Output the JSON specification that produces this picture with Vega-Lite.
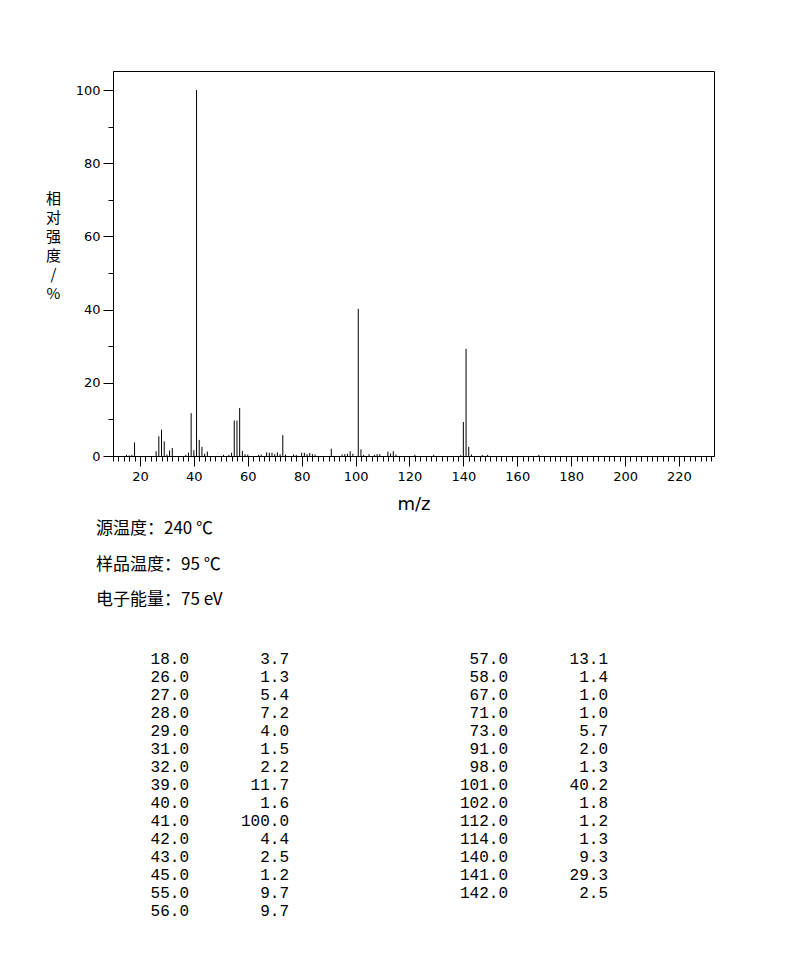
{
  "$schema": "https://vega.github.io/schema/vega-lite/v6.json",
  "background": "white",
  "padding": {"left": 44, "top": 70, "right": 0, "bottom": 0},
  "spacing": 6,
  "config": {
    "view": {"stroke": "black", "strokeWidth": 1},
    "font": "DejaVu Sans",
    "axis": {
      "grid": false,
      "domainColor": "black",
      "tickColor": "black",
      "labelColor": "black",
      "titleColor": "black",
      "labelFont": "DejaVu Sans",
      "labelFontSize": 13,
      "titleFontWeight": "normal"
    }
  },
  "vconcat": [
    {
      "width": 601,
      "height": 385,
      "data": {
        "values": [
          {"mz": 15, "intensity": 0.3}, {"mz": 16, "intensity": 0.15}, {"mz": 17, "intensity": 0.3},
          {"mz": 18, "intensity": 3.7}, {"mz": 26, "intensity": 1.3}, {"mz": 27, "intensity": 5.4},
          {"mz": 28, "intensity": 7.2}, {"mz": 29, "intensity": 4.0}, {"mz": 30, "intensity": 0.4},
          {"mz": 31, "intensity": 1.5}, {"mz": 32, "intensity": 2.2}, {"mz": 37, "intensity": 0.3},
          {"mz": 38, "intensity": 0.9}, {"mz": 39, "intensity": 11.7}, {"mz": 40, "intensity": 1.6},
          {"mz": 41, "intensity": 100.0}, {"mz": 42, "intensity": 4.4}, {"mz": 43, "intensity": 2.5},
          {"mz": 44, "intensity": 0.6}, {"mz": 45, "intensity": 1.2}, {"mz": 51, "intensity": 0.3},
          {"mz": 53, "intensity": 0.3}, {"mz": 54, "intensity": 0.9}, {"mz": 55, "intensity": 9.7},
          {"mz": 56, "intensity": 9.7}, {"mz": 57, "intensity": 13.1}, {"mz": 58, "intensity": 1.4},
          {"mz": 59, "intensity": 0.5}, {"mz": 60, "intensity": 0.4}, {"mz": 64, "intensity": 0.3},
          {"mz": 65, "intensity": 0.4}, {"mz": 67, "intensity": 1.0}, {"mz": 68, "intensity": 0.9},
          {"mz": 69, "intensity": 0.9}, {"mz": 70, "intensity": 0.5}, {"mz": 71, "intensity": 1.0},
          {"mz": 72, "intensity": 0.5}, {"mz": 73, "intensity": 5.7}, {"mz": 74, "intensity": 0.4},
          {"mz": 77, "intensity": 0.4}, {"mz": 78, "intensity": 0.3}, {"mz": 80, "intensity": 0.9},
          {"mz": 81, "intensity": 0.9}, {"mz": 82, "intensity": 0.5}, {"mz": 83, "intensity": 0.8},
          {"mz": 84, "intensity": 0.5}, {"mz": 85, "intensity": 0.4}, {"mz": 91, "intensity": 2.0},
          {"mz": 95, "intensity": 0.4}, {"mz": 96, "intensity": 0.5}, {"mz": 97, "intensity": 0.6},
          {"mz": 98, "intensity": 1.3}, {"mz": 99, "intensity": 0.6}, {"mz": 101, "intensity": 40.2},
          {"mz": 102, "intensity": 1.8}, {"mz": 103, "intensity": 0.3}, {"mz": 105, "intensity": 0.5},
          {"mz": 107, "intensity": 0.3}, {"mz": 108, "intensity": 0.5}, {"mz": 109, "intensity": 0.5},
          {"mz": 112, "intensity": 1.2}, {"mz": 113, "intensity": 0.7}, {"mz": 114, "intensity": 1.3},
          {"mz": 115, "intensity": 0.4}, {"mz": 122, "intensity": 0.3}, {"mz": 129, "intensity": 0.3},
          {"mz": 139, "intensity": 0.2}, {"mz": 140, "intensity": 9.3}, {"mz": 141, "intensity": 29.3},
          {"mz": 142, "intensity": 2.5}, {"mz": 143, "intensity": 0.4}, {"mz": 147, "intensity": 0.3},
          {"mz": 149, "intensity": 0.3}, {"mz": 168, "intensity": 0.3}
        ]
      },
      "mark": {"type": "rule", "color": "black", "strokeWidth": 1},
      "encoding": {
        "x": {
          "field": "mz",
          "type": "quantitative",
          "scale": {"domain": [10, 233], "nice": false, "zero": false},
          "axis": {
            "title": "m/z",
            "titleFont": "DejaVu Sans",
            "titleFontSize": 18,
            "titlePadding": 12,
            "values": [10, 12, 14, 16, 18, 20, 22, 24, 26, 28, 30, 32, 34, 36, 38, 40, 42, 44, 46, 48, 50, 52, 54, 56, 58, 60, 62, 64, 66, 68, 70, 72, 74, 76, 78, 80, 82, 84, 86, 88, 90, 92, 94, 96, 98, 100, 102, 104, 106, 108, 110, 112, 114, 116, 118, 120, 122, 124, 126, 128, 130, 132, 134, 136, 138, 140, 142, 144, 146, 148, 150, 152, 154, 156, 158, 160, 162, 164, 166, 168, 170, 172, 174, 176, 178, 180, 182, 184, 186, 188, 190, 192, 194, 196, 198, 200, 202, 204, 206, 208, 210, 212, 214, 216, 218, 220, 222, 224, 226, 228, 230, 232],
            "labelExpr": "datum.value % 20 === 0 ? datum.label : ''",
            "labelFlush": false,
            "labelOverlap": false,
            "labelPadding": 4,
            "tickSize": {"condition": {"test": "datum.value % 20 === 0", "value": 10}, "value": 5},
            "domain": true
          }
        },
        "y": {
          "field": "intensity",
          "type": "quantitative",
          "scale": {"domain": [0, 105.2], "nice": false},
          "axis": {
            "title": ["相", "对", "强", "度", "/", "%"],
            "titleFont": "Noto Sans CJK SC",
            "titleFontSize": 15,
            "titleAngle": 0,
            "titleAlign": "center",
            "titleBaseline": "top",
            "titleLineHeight": 19,
            "titleX": -60,
            "titleY": 120,
            "values": [0, 10, 20, 30, 40, 50, 60, 70, 80, 90, 100],
            "labelExpr": "datum.value % 20 === 0 ? datum.label : ''",
            "labelPadding": 3,
            "tickSize": {"condition": {"test": "datum.value % 20 === 0", "value": 10}, "value": 5}
          }
        },
        "y2": {"datum": 0}
      }
    },
    {
      "width": 601,
      "height": 270,
      "view": {"stroke": null},
      "title": {
        "text": ["源温度：240 ℃", "样品温度：95 ℃", "电子能量：75 eV"],
        "anchor": "start",
        "frame": "group",
        "dx": -17,
        "font": "Noto Sans CJK SC",
        "fontSize": 17,
        "fontWeight": "normal",
        "color": "black",
        "lineHeight": 35.5,
        "offset": 41
      },
      "data": {
        "values": [
          {"side": "L", "mz": 18.0, "intensity": 3.7},
          {"side": "L", "mz": 26.0, "intensity": 1.3},
          {"side": "L", "mz": 27.0, "intensity": 5.4},
          {"side": "L", "mz": 28.0, "intensity": 7.2},
          {"side": "L", "mz": 29.0, "intensity": 4.0},
          {"side": "L", "mz": 31.0, "intensity": 1.5},
          {"side": "L", "mz": 32.0, "intensity": 2.2},
          {"side": "L", "mz": 39.0, "intensity": 11.7},
          {"side": "L", "mz": 40.0, "intensity": 1.6},
          {"side": "L", "mz": 41.0, "intensity": 100.0},
          {"side": "L", "mz": 42.0, "intensity": 4.4},
          {"side": "L", "mz": 43.0, "intensity": 2.5},
          {"side": "L", "mz": 45.0, "intensity": 1.2},
          {"side": "L", "mz": 55.0, "intensity": 9.7},
          {"side": "L", "mz": 56.0, "intensity": 9.7},
          {"side": "R", "mz": 57.0, "intensity": 13.1},
          {"side": "R", "mz": 58.0, "intensity": 1.4},
          {"side": "R", "mz": 67.0, "intensity": 1.0},
          {"side": "R", "mz": 71.0, "intensity": 1.0},
          {"side": "R", "mz": 73.0, "intensity": 5.7},
          {"side": "R", "mz": 91.0, "intensity": 2.0},
          {"side": "R", "mz": 98.0, "intensity": 1.3},
          {"side": "R", "mz": 101.0, "intensity": 40.2},
          {"side": "R", "mz": 102.0, "intensity": 1.8},
          {"side": "R", "mz": 112.0, "intensity": 1.2},
          {"side": "R", "mz": 114.0, "intensity": 1.3},
          {"side": "R", "mz": 140.0, "intensity": 9.3},
          {"side": "R", "mz": 141.0, "intensity": 29.3},
          {"side": "R", "mz": 142.0, "intensity": 2.5}
        ]
      },
      "transform": [{"window": [{"op": "row_number", "as": "row"}], "groupby": ["side"]}],
      "encoding": {
        "x": {"field": "side", "type": "nominal", "scale": {"type": "point", "domain": ["L", "R"], "range": [76, 395], "padding": 0}, "axis": null},
        "y": {"field": "row", "type": "quantitative", "scale": {"domain": [0.5, 15.5], "reverse": true, "nice": false, "zero": false}, "axis": null}
      },
      "layer": [
        {
          "mark": {"type": "text", "align": "right", "baseline": "middle", "font": "Liberation Mono", "fontSize": 16, "color": "black"},
          "encoding": {"text": {"field": "mz", "type": "quantitative", "format": ".1f"}}
        },
        {
          "mark": {"type": "text", "align": "right", "baseline": "middle", "font": "Liberation Mono", "fontSize": 16, "color": "black", "dx": 100},
          "encoding": {"text": {"field": "intensity", "type": "quantitative", "format": ".1f"}}
        }
      ]
    }
  ]
}
